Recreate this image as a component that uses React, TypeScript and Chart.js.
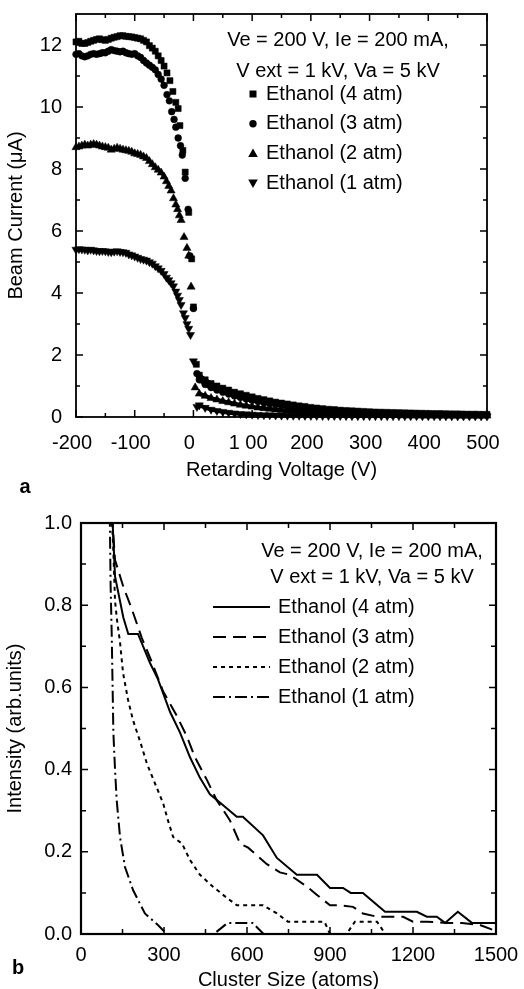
import React, { useEffect, useRef } from 'react';
import { Chart, registerables } from 'chart.js';

Chart.register(...registerables);

const FONT = '"Liberation Sans", Arial, Helvetica, sans-serif';

// ---------- Panel a: beam current vs retarding voltage ----------
const PLATEAU_V = [-200, -195, -190, -185, -180, -175, -170, -165, -160, -155, -150, -145, -140, -135, -130, -125, -120, -115, -110, -105, -100, -95, -90, -85, -80, -75, -70, -65, -60, -55, -50];
const I4_PLATEAU = [12.1, 12.12, 12.05, 12.05, 12.08, 12.12, 12.15, 12.18, 12.2, 12.17, 12.15, 12.18, 12.22, 12.25, 12.27, 12.3, 12.3, 12.28, 12.27, 12.26, 12.24, 12.22, 12.2, 12.15, 12.1, 11.98, 11.9, 11.8, 11.65, 11.5, 11.32];
const I3_PLATEAU = [11.7, 11.72, 11.65, 11.62, 11.65, 11.7, 11.72, 11.7, 11.72, 11.75, 11.75, 11.8, 11.85, 11.82, 11.8, 11.78, 11.8, 11.75, 11.72, 11.7, 11.72, 11.65, 11.6, 11.5, 11.42, 11.35, 11.28, 11.2, 11.05, 10.9, 10.7];
const I2_PLATEAU = [8.7, 8.72, 8.75, 8.78, 8.75, 8.78, 8.8, 8.78, 8.75, 8.72, 8.7, 8.68, 8.62, 8.65, 8.68, 8.65, 8.62, 8.6, 8.58, 8.55, 8.5, 8.48, 8.45, 8.4, 8.35, 8.25, 8.15, 8.05, 7.97, 7.88, 7.75];
const I1_PLATEAU = [5.4, 5.42, 5.41, 5.4, 5.38, 5.4, 5.38, 5.36, 5.35, 5.36, 5.35, 5.33, 5.32, 5.34, 5.35, 5.33, 5.32, 5.3, 5.25, 5.22, 5.18, 5.14, 5.1, 5.08, 5.05, 5.0, 4.95, 4.87, 4.8, 4.72, 4.62];

const DROP4_V = [-45, -40, -35, -30, -26, -23, -18, -14, -8, -3, 0, 5];
const DROP4_I = [11.1, 10.85, 10.5, 10.15, 9.95, 9.4, 8.6, 7.9, 6.6, 5.1, 3.55, 1.7];
const DROP3_V = [-45, -41, -37, -33, -30, -26, -22, -19, -14, -9, -6, 0, 6];
const DROP3_I = [10.4, 10.2, 9.85, 9.6, 9.35, 9.0, 8.75, 8.45, 7.7, 6.7, 5.2, 3.5, 1.4];
const DROP2_V = [-46, -42, -38, -34, -30, -27, -24, -21, -16, -11, -8, -4, 3];
const DROP2_I = [7.6, 7.45, 7.3, 7.05, 6.85, 6.7, 6.5, 6.35, 5.8, 5.45, 5.2, 4.2, 0.95];
const DROP1_V = [-46, -42, -38, -34, -30, -27, -24, -21, -17, -14, -11, -8, -5, 0, 6];
const DROP1_I = [4.5, 4.42, 4.32, 4.22, 4.05, 3.92, 3.78, 3.62, 3.35, 3.2, 3.0, 2.85, 2.65, 1.8, 0.33];

const TAIL_V = [10, 20, 30, 40, 50, 60, 70, 80, 90, 100, 110, 120, 130, 140, 150, 160, 170, 180, 190, 200, 210, 220, 230, 240, 250, 260, 270, 280, 290, 300, 310, 320, 330, 340, 350, 360, 370, 380, 390, 400, 410, 420, 430, 440, 450, 460, 470, 480, 490, 500];
const TAIL4 = [1.35, 1.2, 1.08, 1.0, 0.93, 0.87, 0.8, 0.75, 0.7, 0.65, 0.6, 0.56, 0.52, 0.48, 0.45, 0.42, 0.39, 0.36, 0.34, 0.31, 0.29, 0.27, 0.25, 0.24, 0.22, 0.21, 0.2, 0.19, 0.18, 0.17, 0.16, 0.155, 0.15, 0.145, 0.14, 0.135, 0.13, 0.125, 0.12, 0.115, 0.11, 0.11, 0.105, 0.1, 0.1, 0.095, 0.09, 0.09, 0.085, 0.085];
const TAIL3 = [1.2, 1.05, 0.95, 0.87, 0.8, 0.74, 0.68, 0.63, 0.58, 0.54, 0.5, 0.46, 0.43, 0.4, 0.37, 0.34, 0.32, 0.3, 0.28, 0.26, 0.24, 0.22, 0.21, 0.2, 0.19, 0.18, 0.17, 0.16, 0.15, 0.14, 0.135, 0.13, 0.125, 0.12, 0.115, 0.11, 0.105, 0.1, 0.1, 0.095, 0.09, 0.09, 0.085, 0.085, 0.08, 0.08, 0.075, 0.075, 0.07, 0.07];
const TAIL2 = [0.75, 0.68, 0.61, 0.56, 0.51, 0.47, 0.43, 0.39, 0.36, 0.33, 0.3, 0.28, 0.26, 0.24, 0.22, 0.2, 0.19, 0.17, 0.16, 0.15, 0.14, 0.13, 0.12, 0.11, 0.1, 0.095, 0.09, 0.085, 0.08, 0.075, 0.07, 0.068, 0.065, 0.062, 0.06, 0.058, 0.055, 0.053, 0.05, 0.05, 0.048, 0.047, 0.045, 0.044, 0.043, 0.042, 0.041, 0.04, 0.04, 0.04];
const TAIL1 = [0.38, 0.3, 0.24, 0.2, 0.17, 0.14, 0.12, 0.1, 0.09, 0.08, 0.07, 0.065, 0.06, 0.055, 0.05, 0.048, 0.046, 0.044, 0.042, 0.04, 0.039, 0.038, 0.037, 0.036, 0.035, 0.034, 0.033, 0.032, 0.032, 0.031, 0.03, 0.03, 0.03, 0.029, 0.029, 0.028, 0.028, 0.028, 0.027, 0.027, 0.027, 0.026, 0.026, 0.026, 0.025, 0.025, 0.025, 0.025, 0.024, 0.024];

const A_X_TICK_VALUES = [-200, -100, 0, 100, 200, 300, 400, 500];
const A_X_TICK_LABELS = ['-200', '-100', '0', '1 00', '200', '300', '400', '500'];
const A_Y_TICK_LABELS = ['0', '2', '4', '6', '8', '10', '12'];

// ---------- Panel b: intensity vs cluster size ----------
const B_X4 = [113, 123, 153, 171, 206, 249, 278, 322, 358, 394, 430, 466, 502, 563, 585, 658, 708, 780, 853, 900, 947, 975, 1019, 1099, 1214, 1250, 1286, 1316, 1362, 1413, 1500];
const B_Y4 = [1.02, 0.87, 0.77, 0.73, 0.73, 0.66, 0.62, 0.54, 0.49, 0.43, 0.38, 0.34, 0.32, 0.285, 0.285, 0.24, 0.185, 0.144, 0.144, 0.112, 0.112, 0.1, 0.1, 0.054, 0.054, 0.042, 0.042, 0.027, 0.054, 0.027, 0.027];
const B_X3 = [112, 123, 153, 184, 220, 257, 297, 347, 383, 412, 455, 491, 538, 575, 604, 672, 719, 755, 817, 853, 900, 936, 983, 1019, 1070, 1164, 1200, 1250, 1323, 1377, 1442, 1489, 1500];
const B_Y3 = [1.02, 0.91, 0.845, 0.79, 0.72, 0.66, 0.59, 0.53, 0.48, 0.43, 0.375, 0.325, 0.277, 0.22, 0.21, 0.17, 0.15, 0.144, 0.115, 0.095, 0.07, 0.07, 0.066, 0.05, 0.042, 0.042, 0.03, 0.03, 0.027, 0.027, 0.022, 0.01, 0.02];
const B_X2 = [110, 116, 123, 130, 141, 152, 170, 188, 213, 238, 267, 297, 314, 333, 365, 394, 430, 477, 527, 563, 658, 708, 748, 880, 900, 960, 990, 1070, 1100, 1500];
const B_Y2 = [1.02, 0.95, 0.81, 0.765, 0.71, 0.635, 0.57, 0.52, 0.47, 0.415, 0.367, 0.318, 0.277, 0.236, 0.22, 0.18, 0.144, 0.115, 0.088, 0.07, 0.07, 0.05, 0.03, 0.03, 0, 0, 0.03, 0.03, 0, 0];
const B_X1 = [104, 107, 111, 117, 123, 129, 141, 159, 188, 231, 278, 310, 480, 530, 620, 660, 1500];
const B_Y1 = [1.02, 0.85, 0.73, 0.49, 0.4, 0.326, 0.236, 0.163, 0.107, 0.05, 0.022, 0, 0, 0.027, 0.027, 0, 0];

const B_Y_TICK_LABELS = ['0.0', '0.2', '0.4', '0.6', '0.8', '1.0'];

const SERIES_LABELS = ['Ethanol (4 atm)', 'Ethanol (3 atm)', 'Ethanol (2 atm)', 'Ethanol (1 atm)'];
const CONDITIONS = ['Ve = 200 V, Ie = 200 mA,', 'V ext = 1 kV, Va = 5 kV'];

const pts = (xs: number[], ys: number[]) => xs.map((x, i) => ({ x, y: ys[i] }));

const MARKERS = [
  { pointStyle: 'rect', pointRadius: 4.3, rotation: 0 },
  { pointStyle: 'circle', pointRadius: 3.4, rotation: 0 },
  { pointStyle: 'triangle', pointRadius: 4.7, rotation: 0 },
  { pointStyle: 'triangle', pointRadius: 4.7, rotation: 180 },
];
const DASHES = [[], [13, 7], [4, 4], [12, 4, 2, 4]];

function frameTicks(lw: number, majorLen: number, minorLen: number) {
  return {
    id: 'frameTicks',
    afterDraw(chart: any) {
      const { ctx, chartArea: a, scales } = chart;
      const xs = scales.x;
      const ys = scales.y;
      const mids = (sc: any) => {
        const t = sc.ticks.map((k: any) => k.value);
        const step = t[1] - t[0];
        const out: number[] = [];
        t.forEach((v: number) => {
          const m = v + step / 2;
          if (m < sc.max - 1e-9) out.push(m);
        });
        return out;
      };
      ctx.save();
      ctx.strokeStyle = '#000';
      ctx.lineWidth = 1.5;
      ctx.beginPath();
      const xt = (v: number, len: number) => {
        const p = xs.getPixelForValue(v);
        ctx.moveTo(p, a.bottom);
        ctx.lineTo(p, a.bottom - len);
        ctx.moveTo(p, a.top);
        ctx.lineTo(p, a.top + len);
      };
      const yt = (v: number, len: number) => {
        const p = ys.getPixelForValue(v);
        ctx.moveTo(a.left, p);
        ctx.lineTo(a.left + len, p);
        ctx.moveTo(a.right, p);
        ctx.lineTo(a.right - len, p);
      };
      xs.ticks.forEach((k: any) => xt(k.value, majorLen));
      mids(xs).forEach((v) => xt(v, minorLen));
      ys.ticks.forEach((k: any) => yt(k.value, majorLen));
      mids(ys).forEach((v) => yt(v, minorLen));
      ctx.stroke();
      ctx.lineWidth = lw;
      ctx.strokeRect(a.left, a.top, a.right - a.left, a.bottom - a.top);
      ctx.restore();
    },
  };
}

function drawMarker(ctx: CanvasRenderingContext2D, i: number, x: number, y: number) {
  ctx.beginPath();
  if (i === 0) {
    ctx.rect(x - 3.5, y - 3.5, 7, 7);
  } else if (i === 1) {
    ctx.arc(x, y, 3.7, 0, Math.PI * 2);
  } else if (i === 2) {
    ctx.moveTo(x, y - 5);
    ctx.lineTo(x + 4.8, y + 3.5);
    ctx.lineTo(x - 4.8, y + 3.5);
    ctx.closePath();
  } else {
    ctx.moveTo(x, y + 5);
    ctx.lineTo(x + 4.8, y - 3.5);
    ctx.lineTo(x - 4.8, y - 3.5);
    ctx.closePath();
  }
  ctx.fill();
}

const panelAText = {
  id: 'panelAText',
  afterDraw(chart: any) {
    const { ctx } = chart;
    ctx.save();
    ctx.fillStyle = '#000';
    ctx.font = `20px ${FONT}`;
    ctx.textBaseline = 'middle';
    ctx.textAlign = 'center';
    CONDITIONS.forEach((s, i) => ctx.fillText(s, 338, 40 + i * 31));
    ctx.textAlign = 'left';
    SERIES_LABELS.forEach((s, i) => {
      const y = 94 + i * 29.7;
      drawMarker(ctx, i, 253, y);
      ctx.fillText(s, 266, y);
    });
    ctx.font = `bold 20px ${FONT}`;
    ctx.textAlign = 'center';
    ctx.fillText('a', 25, 487);
    ctx.restore();
  },
};

const panelBText = {
  id: 'panelBText',
  afterDraw(chart: any) {
    const { ctx } = chart;
    ctx.save();
    ctx.fillStyle = '#000';
    ctx.strokeStyle = '#000';
    ctx.font = `20px ${FONT}`;
    ctx.textBaseline = 'middle';
    ctx.textAlign = 'center';
    CONDITIONS.forEach((s, i) => ctx.fillText(s, 372, 56 + i * 26));
    ctx.textAlign = 'left';
    ctx.lineWidth = 2;
    SERIES_LABELS.forEach((s, i) => {
      const y = 112 + i * 30;
      ctx.setLineDash(DASHES[i]);
      ctx.beginPath();
      ctx.moveTo(213, y);
      ctx.lineTo(270, y);
      ctx.stroke();
      ctx.fillText(s, 278, y);
    });
    ctx.setLineDash([]);
    ctx.font = `bold 20px ${FONT}`;
    ctx.textAlign = 'center';
    ctx.fillText('b', 18, 473);
    ctx.restore();
  },
};

const tickFont = { family: FONT, size: 20 };

function configA(): any {
  const plateaus = [pts(PLATEAU_V, I4_PLATEAU), pts(PLATEAU_V, I3_PLATEAU), pts(PLATEAU_V, I2_PLATEAU), pts(PLATEAU_V, I1_PLATEAU)];
  const drops = [pts(DROP4_V, DROP4_I), pts(DROP3_V, DROP3_I), pts(DROP2_V, DROP2_I), pts(DROP1_V, DROP1_I)];
  const tails = [pts(TAIL_V, TAIL4), pts(TAIL_V, TAIL3), pts(TAIL_V, TAIL2), pts(TAIL_V, TAIL1)];
  const markerSets = SERIES_LABELS.map((label, i) => ({
    label,
    data: [...plateaus[i], ...drops[i], ...tails[i]],
    showLine: false,
    pointStyle: MARKERS[i].pointStyle,
    pointRadius: MARKERS[i].pointRadius,
    pointRotation: MARKERS[i].rotation,
    backgroundColor: '#000',
    borderColor: '#000',
    pointBorderWidth: 0.5,
    clip: false,
  }));
  // dense, overlapping marker runs read as solid bands: trace them with the same data
  const bandSets = [...plateaus.map((d) => ({ d, w: 3 })), ...tails.map((d) => ({ d, w: 4 }))].map(({ d, w }) => ({
    data: d,
    showLine: true,
    pointRadius: 0,
    borderColor: '#000',
    borderWidth: w,
    tension: 0,
    clip: false,
  }));
  return {
    type: 'scatter',
    data: { datasets: [...markerSets, ...bandSets] },
    options: {
      responsive: false,
      animation: false,
      devicePixelRatio: 1,
      layout: { padding: { top: 14, right: 37, left: 0, bottom: 0 } },
      plugins: { legend: { display: false }, tooltip: { enabled: false } },
      scales: {
        x: {
          type: 'linear',
          min: -200,
          max: 500,
          afterFit: (s: any) => { s.height = 78; s.paddingLeft = 0; s.paddingRight = 0; },
          grid: { display: false, drawTicks: false },
          border: { display: false },
          ticks: {
            stepSize: 100,
            autoSkip: false,
            maxRotation: 0,
            padding: 14,
            labelOffset: -4,
            color: '#000',
            font: tickFont,
            callback: (v: number) => {
              const k = A_X_TICK_VALUES.indexOf(Math.round(v));
              return k >= 0 ? A_X_TICK_LABELS[k] : String(v);
            },
          },
          title: { display: true, text: 'Retarding Voltage (V)', color: '#000', font: tickFont, padding: { top: 0, bottom: 13 } },
        },
        y: {
          type: 'linear',
          min: 0,
          max: 13,
          afterFit: (s: any) => { s.width = 76; s.paddingTop = 0; s.paddingBottom = 0; },
          grid: { display: false, drawTicks: false },
          border: { display: false },
          ticks: {
            stepSize: 2,
            includeBounds: false,
            autoSkip: false,
            padding: 14,
            color: '#000',
            font: tickFont,
            callback: (_v: number, i: number) => A_Y_TICK_LABELS[i],
          },
          title: { display: true, text: 'Beam Current (μA)', color: '#000', font: tickFont, padding: { top: 4, bottom: 0 } },
        },
      },
    },
    plugins: [frameTicks(1.8, 7, 4), panelAText],
  };
}

function configB(): any {
  const series = [pts(B_X4, B_Y4), pts(B_X3, B_Y3), pts(B_X2, B_Y2), pts(B_X1, B_Y1)];
  return {
    type: 'line',
    data: {
      datasets: series.map((d, i) => ({
        label: SERIES_LABELS[i],
        data: d,
        borderColor: '#000',
        borderWidth: 2,
        borderDash: DASHES[i],
        pointRadius: 0,
        tension: 0,
        fill: false,
      })),
    },
    options: {
      responsive: false,
      animation: false,
      devicePixelRatio: 1,
      layout: { padding: { top: 28, right: 28, left: 0, bottom: 0 } },
      plugins: { legend: { display: false }, tooltip: { enabled: false } },
      scales: {
        x: {
          type: 'linear',
          min: 0,
          max: 1500,
          afterFit: (s: any) => { s.height = 66; s.paddingLeft = 0; s.paddingRight = 0; },
          grid: { display: false, drawTicks: false },
          border: { display: false },
          ticks: {
            stepSize: 300,
            autoSkip: false,
            maxRotation: 0,
            padding: 9,
            color: '#000',
            font: tickFont,
            callback: (v: number) => String(Math.round(v)),
          },
          title: { display: true, text: 'Cluster Size (atoms)', color: '#000', font: tickFont, padding: { top: 0, bottom: 8 } },
        },
        y: {
          type: 'linear',
          min: 0,
          max: 1,
          afterFit: (s: any) => { s.width = 81; s.paddingTop = 0; s.paddingBottom = 0; },
          grid: { display: false, drawTicks: false },
          border: { display: false },
          ticks: {
            stepSize: 0.2,
            autoSkip: false,
            padding: 9,
            color: '#000',
            font: tickFont,
            callback: (_v: number, i: number) => B_Y_TICK_LABELS[i],
          },
          title: { display: true, text: 'Intensity (arb.units)', color: '#000', font: tickFont, padding: { top: 3, bottom: 0 } },
        },
      },
    },
    plugins: [frameTicks(2.2, 7, 5), panelBText],
  };
}

export default function App() {
  const aRef = useRef<HTMLCanvasElement>(null);
  const bRef = useRef<HTMLCanvasElement>(null);
  useEffect(() => {
    Chart.defaults.font.family = FONT;
    Chart.defaults.color = '#000';
    const ca = new Chart(aRef.current as HTMLCanvasElement, configA());
    const cb = new Chart(bRef.current as HTMLCanvasElement, configB());
    return () => {
      ca.destroy();
      cb.destroy();
    };
  }, []);
  return (
    <div style={{ position: 'fixed', left: 0, top: 0, width: 524, height: 989, overflow: 'hidden', background: '#fff' }}>
      <canvas ref={aRef} width={524} height={495} style={{ position: 'absolute', left: 0, top: 0, width: 524, height: 495 }} />
      <canvas ref={bRef} width={524} height={505} style={{ position: 'absolute', left: 0, top: 495, width: 524, height: 505 }} />
    </div>
  );
}
